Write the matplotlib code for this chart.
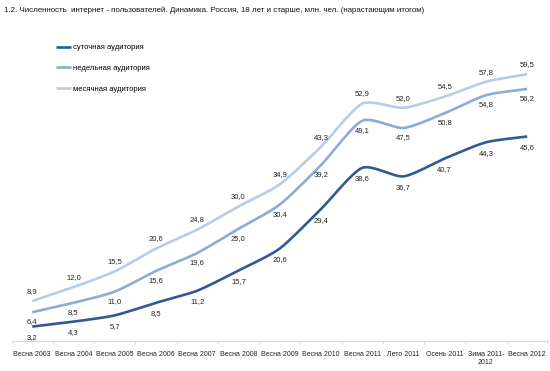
import matplotlib
matplotlib.use("Agg")
import matplotlib.pyplot as plt
import numpy as np

categories = ["Весна 2003", "Весна 2004", "Весна 2005", "Весна 2006", "Весна 2007",
              "Весна 2008", "Весна 2009", "Весна 2010", "Весна 2011", "Лето 2011",
              "Осень 2011", "Зима 2011-\n2012", "Весна 2012"]
daily = [3.2, 4.3, 5.7, 8.5, 11.2, 15.7, 20.6, 29.4, 38.6, 36.7, 40.7, 44.3, 45.6]
weekly = [6.4, 8.5, 11.0, 15.6, 19.6, 25.0, 30.4, 39.2, 49.1, 47.5, 50.8, 54.8, 56.2]
monthly = [8.9, 12.0, 15.5, 20.6, 24.8, 30.0, 34.9, 43.3, 52.9, 52.0, 54.5, 57.8, 59.5]

title = "1.2. Численность  интернет - пользователей. Динамика. Россия, 18 лет и старше, млн. чел. (нарастающим итогом)"

plt.rcParams['font.family'] = ['Liberation Sans', 'DejaVu Sans']


def smooth(xs, ys, n=20):
    # catmull-rom style smoothing, like excel "smoothed line"
    xs = np.asarray(xs, float)
    ys = np.asarray(ys, float)
    px = np.concatenate([[2 * xs[0] - xs[1]], xs, [2 * xs[-1] - xs[-2]]])
    py = np.concatenate([[2 * ys[0] - ys[1]], ys, [2 * ys[-1] - ys[-2]]])
    outx, outy = [], []
    t = np.linspace(0, 1, n, endpoint=False)
    for i in range(1, len(px) - 2):
        for arr, out in ((px, outx), (py, outy)):
            p0, p1, p2, p3 = arr[i - 1], arr[i], arr[i + 1], arr[i + 2]
            tension = 0.5 * 0.7
            m1 = tension * (p2 - p0)
            m2 = tension * (p3 - p1)
            h00 = 2 * t**3 - 3 * t**2 + 1
            h10 = t**3 - 2 * t**2 + t
            h01 = -2 * t**3 + 3 * t**2
            h11 = t**3 - t**2
            out.extend(h00 * p1 + h10 * m1 + h01 * p2 + h11 * m2)
    outx.append(xs[-1])
    outy.append(ys[-1])
    return outx, outy


fig = plt.figure(figsize=(5.5, 3.71), dpi=100)
ax = fig.add_axes([0.021, 0.081, 0.975, 0.846])

x = np.arange(len(categories))
series = [
    (daily, "суточная аудитория", "#2f5a94", -8),
    (weekly, "недельная аудитория", "#8eaad6", -7),
    (monthly, "месячная аудитория", "#b8cce6", 7),
]

for vals, name, col, off in series:
    sx, sy = smooth(x, vals)
    ax.plot(sx, sy, color=col, lw=1.9, label=name, solid_capstyle='butt')
    for xi, v in zip(x, vals):
        ax.annotate(f"{v:.1f}".replace(".", ","), (xi, v), xytext=(0, off),
                    textcoords="offset points", ha="center", va="center",
                    fontsize=5.5, color="#222222")

ax.set_xlim(-0.5, len(categories) - 0.5)
ax.set_ylim(0, 70)
ax.set_yticks([])
ax.set_xticks(x)
ax.set_xticklabels(categories, fontsize=5.0, color="#222222", linespacing=1.3)
ax.tick_params(axis="x", length=0, pad=7)
ax.set_xticks(np.arange(-0.5, len(categories), 1), minor=True)
ax.tick_params(axis="x", which="minor", length=2, color="#d9d9d9")
for s in ["top", "right", "left"]:
    ax.spines[s].set_visible(False)
ax.spines["bottom"].set_color("#d9d9d9")

handles, labels = ax.get_legend_handles_labels()
leg = ax.legend(handles, labels, loc="upper left", bbox_to_anchor=(0.07, 0.968),
                frameon=False, fontsize=5.5, handlelength=2.0, handletextpad=0.2,
                labelspacing=1.75)

fig.text(0.008, 0.972, title, fontsize=5.7, ha="left", va="center", color="#111111")

fig.savefig("out.png", dpi=100)
